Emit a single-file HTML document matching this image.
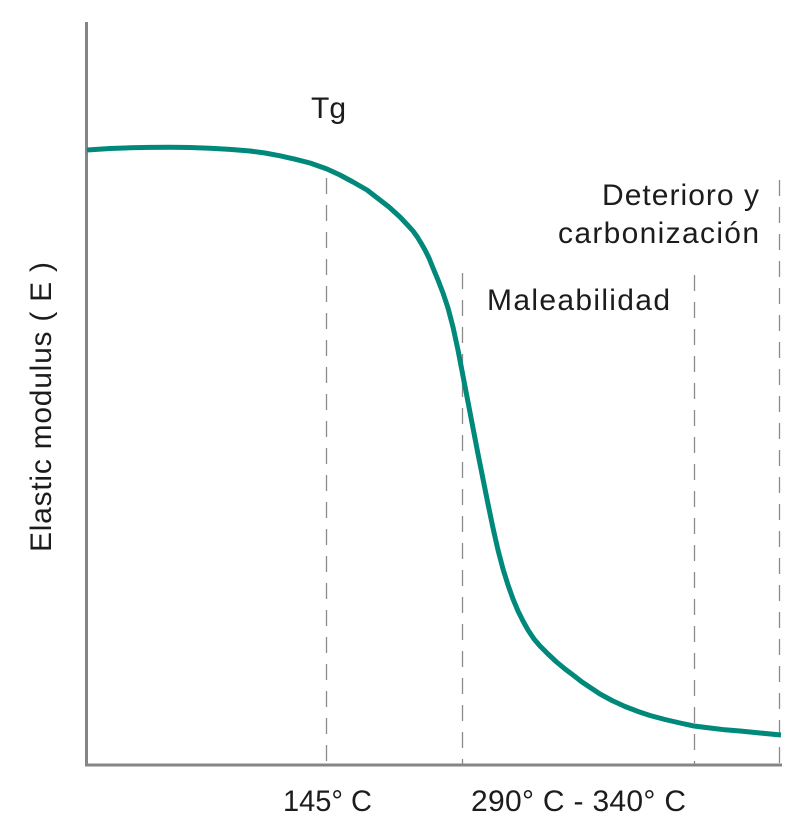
<!DOCTYPE html>
<html>
<head>
<meta charset="utf-8">
<style>
  html, body { margin: 0; padding: 0; background: #ffffff; }
  body { width: 794px; height: 818px; overflow: hidden; }
  svg { display: block; }
  text { font-family: "Liberation Sans", "DejaVu Sans", sans-serif; fill: #1c1c1c; font-size: 30px; }
</style>
</head>
<body>
<svg width="794" height="818" viewBox="0 0 794 818" xmlns="http://www.w3.org/2000/svg">
  <!-- dashed guide lines -->
  <g stroke="#8a8a8a" stroke-width="1.3" stroke-dasharray="16,11" fill="none">
    <line x1="326.5" y1="178" x2="326.5" y2="765"/>
    <line x1="462.5" y1="273" x2="462.5" y2="765"/>
    <line x1="694.5" y1="275" x2="694.5" y2="765"/>
    <line x1="779.5" y1="180" x2="779.5" y2="765"/>
  </g>

  <!-- axes -->
  <line x1="86.5" y1="22" x2="86.5" y2="766" stroke="#858585" stroke-width="3"/>
  <line x1="85" y1="765" x2="782" y2="765" stroke="#858585" stroke-width="3"/>

  <!-- curve -->
  <polyline fill="none" stroke="#00897a" stroke-width="5" stroke-linejoin="round" stroke-linecap="butt"
    points="87,150 110,148.5 130,147.8 150,147.4 170,147.3 190,147.5 210,148.2 230,149.4 250,151 265,153 280,155.8 295,159.2 310,163 327,169 340,175 353,182 367,190 378,198.5 389,207 400,217 408,225.5 413,231 417,236.5 421,243 425,250 429,258 433,268 438,280 443,293 448,308 453,327 458,350 463,376 468,402 473,428 478,454 483,479 488,504 493,528 498,550 503,569 508,585 513,599 518,611 523,621 528,630 534,639 540,646 548,654 556,661.5 565,669 573,675 582,682 591,688 600,694 612,700.5 625,706.5 638,711.5 650,715.5 665,719.5 680,723 694,726 710,728 725,729.8 740,731 760,733 781,735"/>

  <!-- labels -->
  <text x="311" y="118" font-size="29">Tg</text>
  <text x="602" y="205" textLength="157" lengthAdjust="spacing">Deterioro y</text>
  <text x="558" y="243" textLength="201" lengthAdjust="spacing">carbonización</text>
  <text x="487" y="310" textLength="183" lengthAdjust="spacing">Maleabilidad</text>

  <text x="283" y="811" textLength="89" lengthAdjust="spacingAndGlyphs">145° C</text>
  <text x="471" y="811" textLength="215" lengthAdjust="spacing">290° C - 340° C</text>

  <text transform="translate(51,552) rotate(-90)" x="0" y="0" textLength="290" lengthAdjust="spacing">Elastic modulus ( E )</text>
</svg>
</body>
</html>
